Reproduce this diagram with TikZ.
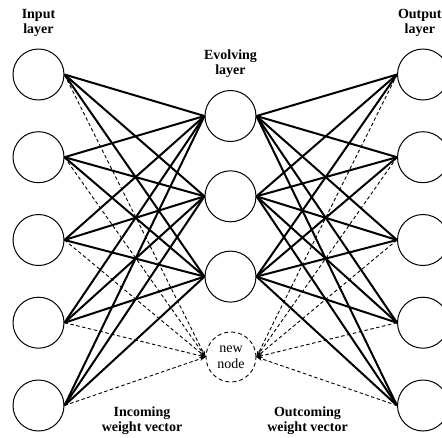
\documentclass[tikz,border=0pt]{standalone}
\usepackage{fontspec}
\setmainfont{Liberation Serif}
\usetikzlibrary{arrows.meta}
\tikzset{
  neuron/.style={circle,draw,line width=1pt,minimum size=51pt,inner sep=0pt},
  newneuron/.style={circle,draw,line width=0.9pt,dash pattern=on 4pt off 3pt,minimum size=50pt,inner sep=0pt,font=\fontsize{14}{16}\selectfont,align=center},
  wire/.style={line width=2pt},
  dwire/.style={line width=0.9pt,dash pattern=on 3.5pt off 2.5pt,-{Stealth[length=6pt,width=4pt]}},
  lbl/.style={font=\bfseries\fontsize{14}{15}\selectfont,align=center,inner sep=0pt}
}
\begin{document}
\begin{tikzpicture}[x=1pt,y=-1pt]
\clip (0,0) rectangle (442,437);
% input layer
\node[neuron] (i1) at (38.5,74.5) {};
\node[neuron] (i2) at (38.5,157.2) {};
\node[neuron] (i3) at (38.5,240) {};
\node[neuron] (i4) at (38.5,322.7) {};
\node[neuron] (i5) at (38.5,405.5) {};
% evolving layer
\node[neuron] (e1) at (230.5,116) {};
\node[neuron] (e2) at (230.5,196.3) {};
\node[neuron] (e3) at (230.5,276.6) {};
\node[newneuron] (n) at (231,357) {new\\node};
% output layer
\node[neuron] (o1) at (423,74.5) {};
\node[neuron] (o2) at (423,157.2) {};
\node[neuron] (o3) at (423,240) {};
\node[neuron] (o4) at (423,322.7) {};
\node[neuron] (o5) at (423,405.5) {};
% connections
\foreach \i in {1,...,5}{
  \foreach \e in {1,2,3}{
    \draw[wire] (i\i.east) -- (e\e.west);
    \draw[wire] (e\e.east) -- (o\i.west);
  }
  \draw[dwire] (i\i.east) -- (n.west);
  \draw[dwire] (o\i.west) -- (n.east);
}
% labels
\node[lbl] (lin) at (38.5,23) {Input\\layer};
\node[lbl] (lev) at (230.5,64) {Evolving\\layer};
\node[lbl] (lout) at (419.8,23) {Output\\layer};
\node[lbl] (linc) at (142,421) {Incoming\\weight vector};
\node[lbl] (loutc) at (307.5,421) {Outcoming\\weight vector};
\end{tikzpicture}
\end{document}
